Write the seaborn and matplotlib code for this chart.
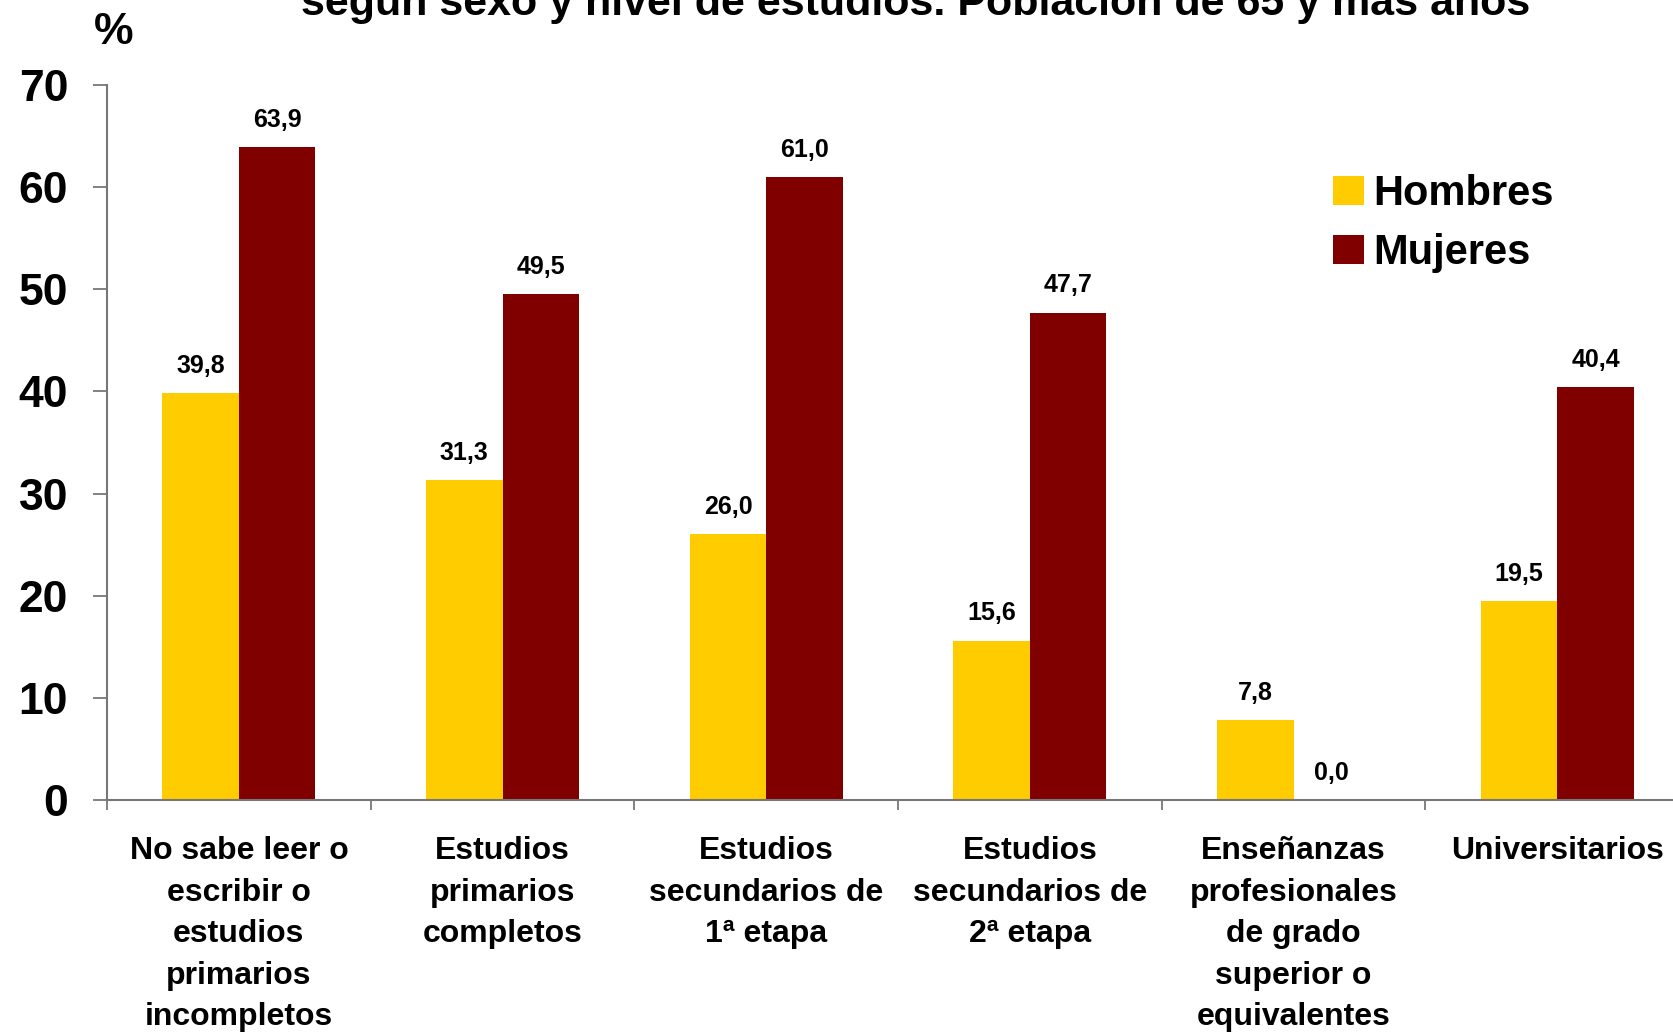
import pandas as pd
import matplotlib
matplotlib.use('Agg')
import matplotlib.pyplot as plt
import numpy as np
import seaborn as sns

# --- Data ---
niveles = [
    'No sabe leer o\nescribir o\nestudios\nprimarios\nincompletos',
    'Estudios\nprimarios\ncompletos',
    'Estudios\nsecundarios de\n1ª etapa',
    'Estudios\nsecundarios de\n2ª etapa',
    'Enseñanzas\nprofesionales\nde grado\nsuperior o\nequivalentes',
    'Universitarios',
]
hombres = [39.8, 31.3, 26.0, 15.6, 7.8, 19.5]
mujeres = [63.9, 49.5, 61.0, 47.7, 0.0, 40.4]
series = ['Hombres', 'Mujeres']
colores = ['#FFCC00', '#800000']

df = pd.DataFrame({
    'nivel': niveles * 2,
    'pct': hombres + mujeres,
    'sexo': ['Hombres'] * len(hombres) + ['Mujeres'] * len(mujeres),
})

# --- Style ---
sns.set_style('white')
plt.rcParams['font.family'] = ['Liberation Sans', 'DejaVu Sans']
plt.rcParams['font.weight'] = 'bold'
plt.rcParams['text.color'] = 'black'
plt.rcParams['xtick.color'] = 'black'
plt.rcParams['ytick.color'] = 'black'

fig = plt.figure(figsize=(16.73, 10.34), dpi=100)
ax = fig.add_axes([0.064, 0.2263, 0.9456, 0.6915])

sns.barplot(data=df, x='nivel', y='pct', hue='sexo', hue_order=series,
            palette=colores, width=0.58, gap=0, saturation=1, linewidth=0,
            order=niveles, ax=ax)

ax.set_ylim(0, 70)
ax.set_xlim(-0.5, 5.5)
ax.set_yticks(range(0, 71, 10))
ax.set_xticks(np.arange(-0.5, 6, 1), minor=True)
ax.set_xlabel('')
ax.set_ylabel('')

for lab in ax.get_yticklabels():
    lab.set_fontsize(32)
    lab.set_fontweight('bold')
for lab in ax.get_xticklabels():
    lab.set_fontsize(23)
    lab.set_fontweight('bold')
    lab.set_linespacing(1.5)

ax.tick_params(axis='x', which='major', length=0, pad=26)
ax.tick_params(axis='x', which='minor', length=7, width=1.3, color='#777777', direction='out', bottom=True)
ax.tick_params(axis='y', length=10, width=1.3, color='#777777', direction='out', left=True, pad=18)

for side in ['top', 'right']:
    ax.spines[side].set_visible(False)
for side in ['left', 'bottom']:
    ax.spines[side].set_color('#777777')
    ax.spines[side].set_linewidth(1.5)

# value labels with comma decimals
for cont, vals in zip(ax.containers, [hombres, mujeres]):
    ax.bar_label(cont, labels=[f'{v:.1f}'.replace('.', ',') for v in vals],
                 padding=11, fontsize=18, fontweight='bold', color='black')

# legend
handles, labels = ax.get_legend_handles_labels()
ax.legend(handles, labels, loc='center left', bbox_to_anchor=(0.797, 0.784),
          bbox_transform=fig.transFigure, frameon=False,
          handlelength=0.74, handleheight=0.7, handletextpad=0.22,
          labelspacing=0.45, borderpad=0, borderaxespad=0,
          prop={'weight': 'bold', 'size': 30})

# title (partly cut off at the top, as in the source) and unit
fig.text(0.547, 1 - 15 / 1034, 'según sexo y nivel de estudios. Población de 65 y más años',
         ha='center', va='baseline', fontsize=31, fontweight='bold')
fig.text(114 / 1673, 1 - 32 / 1034, '%', ha='center', va='center',
         fontsize=32, fontweight='bold')

fig.savefig('out.png', dpi=100)
plt.close()
